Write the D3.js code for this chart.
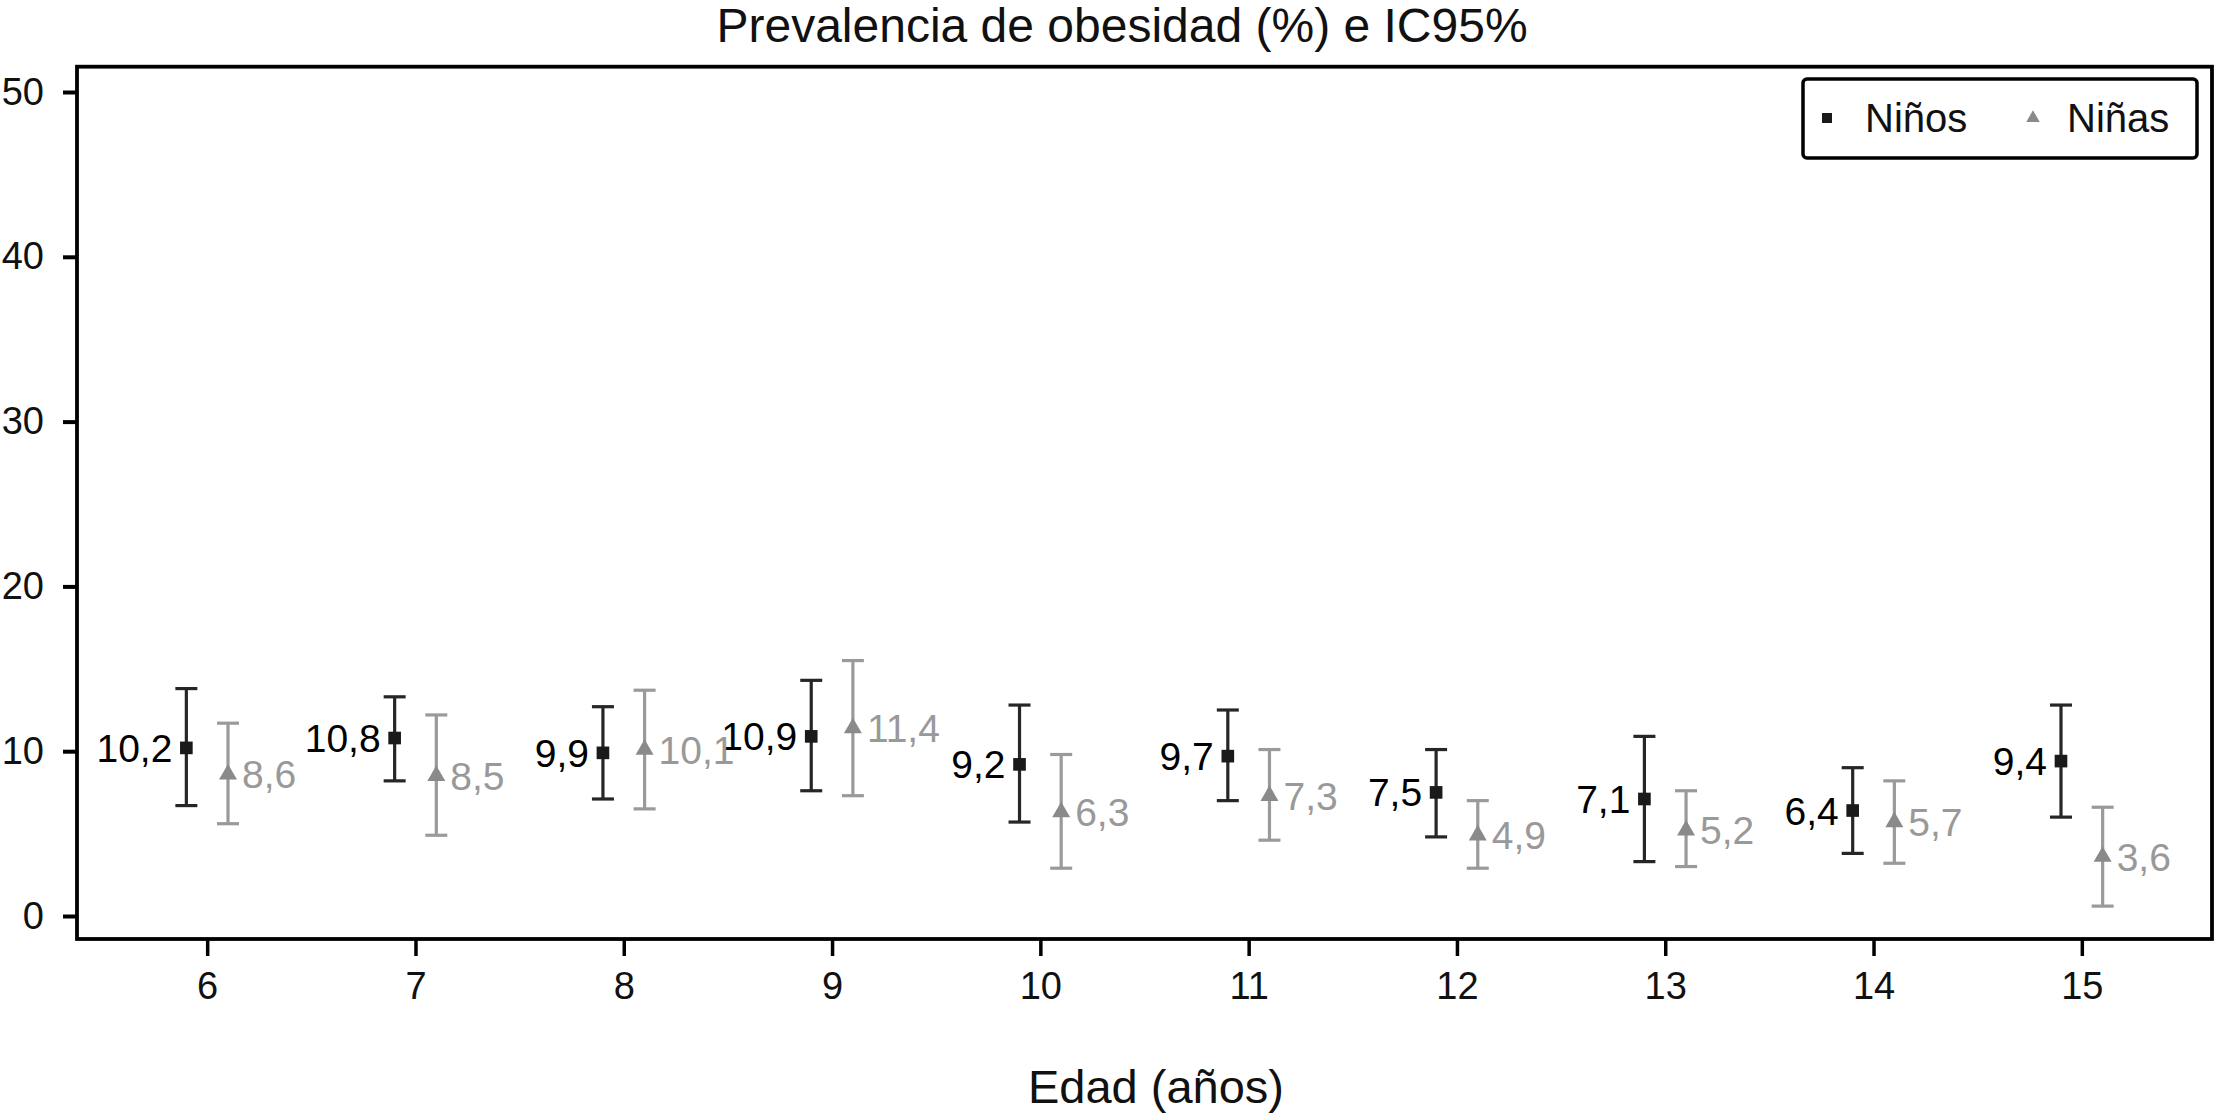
<!DOCTYPE html>
<html>
<head>
<meta charset="utf-8">
<script src="https://cdn.jsdelivr.net/npm/d3@7/dist/d3.min.js"></script>
<style>
  html, body { margin: 0; padding: 0; background: #fff; }
  svg { display: block; font-family: "Liberation Sans", Arial, Helvetica, sans-serif; }
</style>
</head>
<body>
<svg id="chart" width="2215" height="1115"></svg>
<script>
// ---- data ----
const ages = [6, 7, 8, 9, 10, 11, 12, 13, 14, 15];
const ninosValue = [10.2, 10.8, 9.9, 10.9, 9.2, 9.7, 7.5, 7.1, 6.4, 9.4];
const ninosLower = [6.7, 8.2, 7.1, 7.6, 5.7, 7.0, 4.8, 3.3, 3.8, 6.0];
const ninosUpper = [13.8, 13.3, 12.7, 14.3, 12.8, 12.5, 10.1, 10.9, 9.0, 12.8];
const ninasValue = [8.6, 8.5, 10.1, 11.4, 6.3, 7.3, 4.9, 5.2, 5.7, 3.6];
const ninasLower = [5.6, 4.9, 6.5, 7.3, 2.9, 4.6, 2.9, 3.0, 3.2, 0.6];
const ninasUpper = [11.7, 12.2, 13.7, 15.5, 9.8, 10.1, 7.0, 7.6, 8.2, 6.6];
const yTicks = [0, 10, 20, 30, 40, 50];
const seriesNames = ["Niños", "Niñas"];
const titleText = "Prevalencia de obesidad (%) e IC95%";
const xTitleText = "Edad (años)";

const fmt = v => String(v).replace(".", ",");

// ---- layout ----
const svg = d3.select("#chart");
const x = d3.scaleLinear().domain([5.375, 15.625]).range([77, 2212]);
const y = d3.scaleLinear().domain([0, 50]).range([916, 92]);
const boxTop = 66.7, boxBottom = 939;
const offset = 0.1;

const series = [
  { name: seriesNames[0], values: ninosValue, lo: ninosLower, hi: ninosUpper, dx: -offset,
    bar: "#262626", mark: "#1a1a1a", label: "#000", shape: d3.symbolSquare, anchor: "end", lx: -14 },
  { name: seriesNames[1], values: ninasValue, lo: ninasLower, hi: ninasUpper, dx: offset,
    bar: "#9a9a9a", mark: "#8a8a8a", label: "#999", shape: d3.symbolTriangle, anchor: "start", lx: 14 }
];

// title
svg.append("text").attr("x", 1122).attr("y", 42).attr("text-anchor", "middle")
  .attr("font-size", 48).attr("fill", "#111").text(titleText);

// axes
const yAxis = d3.axisLeft(y).tickValues(yTicks).tickSize(14).tickPadding(19);
const gy = svg.append("g").attr("transform", `translate(${x.range()[0]},0)`).call(yAxis);
gy.select(".domain").remove();
gy.selectAll(".tick line").attr("stroke", "#000").attr("stroke-width", 4);
gy.selectAll(".tick text").attr("font-size", 38).attr("fill", "#111")
  .attr("font-family", "Liberation Sans, Arial, sans-serif");

const xAxis = d3.axisBottom(x).tickValues(ages).tickSize(17).tickPadding(16);
const gx = svg.append("g").attr("transform", `translate(0,${boxBottom})`).call(xAxis);
gx.select(".domain").remove();
gx.selectAll(".tick line").attr("stroke", "#000").attr("stroke-width", 3.5);
gx.selectAll(".tick text").attr("font-size", 38).attr("fill", "#111")
  .attr("font-family", "Liberation Sans, Arial, sans-serif");

// frame
svg.append("rect")
  .attr("x", x.range()[0]).attr("y", boxTop)
  .attr("width", x.range()[1] - x.range()[0]).attr("height", boxBottom - boxTop)
  .attr("fill", "none").attr("stroke", "#000").attr("stroke-width", 3.8);

// x title
svg.append("text").attr("x", 1156).attr("y", 1103).attr("text-anchor", "middle")
  .attr("font-size", 47).attr("fill", "#111").text(xTitleText);

// series
const capW = 11;
series.forEach(s => {
  const g = svg.append("g");
  const rows = ages.map((a, i) => ({ a, v: s.values[i], lo: s.lo[i], hi: s.hi[i] }));
  const px = d => x(d.a + s.dx);
  g.selectAll("line.err").data(rows).join("line")
    .attr("x1", px).attr("x2", px)
    .attr("y1", d => y(d.lo)).attr("y2", d => y(d.hi))
    .attr("stroke", s.bar).attr("stroke-width", 3.2);
  g.selectAll("line.capHi").data(rows).join("line")
    .attr("x1", d => px(d) - capW).attr("x2", d => px(d) + capW)
    .attr("y1", d => y(d.hi)).attr("y2", d => y(d.hi))
    .attr("stroke", s.bar).attr("stroke-width", 3.2);
  g.selectAll("line.capLo").data(rows).join("line")
    .attr("x1", d => px(d) - capW).attr("x2", d => px(d) + capW)
    .attr("y1", d => y(d.lo)).attr("y2", d => y(d.lo))
    .attr("stroke", s.bar).attr("stroke-width", 3.2);
  g.selectAll("path.mk").data(rows).join("path")
    .attr("d", d3.symbol().type(s.shape).size(s.shape === d3.symbolSquare ? 160 : 140))
    .attr("transform", d => `translate(${px(d)},${y(d.v)})`)
    .attr("fill", s.mark);
  g.selectAll("text.lb").data(rows).join("text")
    .attr("x", d => px(d) + s.lx).attr("y", d => y(d.v) + 14)
    .attr("text-anchor", s.anchor).attr("font-size", 39).attr("fill", s.label)
    .text(d => fmt(d.v));
});

// legend
const lg = svg.append("g");
lg.append("rect").attr("x", 1803).attr("y", 79).attr("width", 394).attr("height", 79)
  .attr("rx", 4).attr("fill", "#fff").attr("stroke", "#000").attr("stroke-width", 3.5);
lg.append("path").attr("d", d3.symbol().type(d3.symbolSquare).size(100))
  .attr("transform", "translate(1827,118)").attr("fill", series[0].mark);
lg.append("text").attr("x", 1865).attr("y", 132).attr("font-size", 40).attr("fill", "#111").text(series[0].name);
lg.append("path").attr("d", d3.symbol().type(d3.symbolTriangle).size(80))
  .attr("transform", "translate(2033,118)").attr("fill", series[1].mark);
lg.append("text").attr("x", 2067).attr("y", 132).attr("font-size", 40).attr("fill", "#111").text(series[1].name);
</script>
</body>
</html>
